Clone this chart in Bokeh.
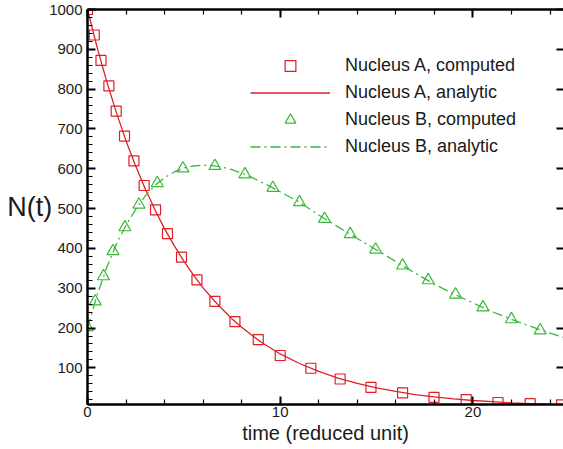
from bokeh.plotting import figure
from bokeh.models import (LinearAxis, Range1d, SingleIntervalTicker, Legend, LegendItem,
                          CustomJSTickFormatter)
from bokeh.embed import file_html
from bokeh.resources import INLINE

# ---- data ----
tA_comp = [0.0, 0.35, 0.70, 1.11, 1.49, 1.92, 2.41, 2.94, 3.53, 4.15, 4.88, 5.68, 6.61,
           7.65, 8.86, 10.0, 11.59, 13.11, 14.71, 16.35, 17.98, 19.65, 21.3, 22.97, 24.6]
nA_comp = [1000, 936, 872, 808, 745, 682, 620, 558, 497, 437, 378, 321, 267,
           216, 171, 131, 99, 72, 51, 37, 26, 20, 13, 10, 7]

tB_comp = [0.0, 0.40, 0.83, 1.32, 1.94, 2.67, 3.62, 4.95, 6.61, 8.17, 9.62, 11.0,
           12.3, 13.63, 14.95, 16.35, 17.68, 19.1, 20.52, 22.0, 23.49]
nB_comp = [202, 267, 330, 393, 453, 510, 564, 601, 607, 586, 552, 516,
           474, 436, 397, 357, 320, 284, 252, 222, 194]

t_line = [0, 0.5, 1, 1.5, 2, 2.5, 3, 3.5, 4, 4.5, 5, 5.5, 6, 6.5, 7, 7.5, 8, 8.5, 9, 9.5,
          10, 11, 12, 13, 14, 15, 16, 17, 18, 19, 20, 21, 22, 23, 24, 25]
nA_line = [1000, 905, 819, 741, 670, 607, 549, 497, 449, 407, 368, 333, 301, 273, 247, 223,
           202, 183, 165, 150, 135, 111, 91, 74, 61, 50, 41, 33, 27, 22, 18, 15, 12, 10, 8, 7]
nB_line = [200, 283, 352, 411, 458, 498, 532, 558, 578, 592, 602, 607, 609, 608, 604, 598,
           589, 579, 567, 555, 542, 516, 484, 454, 425, 396, 367, 338, 310, 286, 263, 241,
           222, 204, 187, 172]

labels = ["Nucleus A, computed", "Nucleus A, analytic",
          "Nucleus B, computed", "Nucleus B, analytic"]

RED = "#dd1f26"
GREEN = "#3ab83a"
FONT = "Liberation Sans"
TXT = "#1a1a1a"

p = figure(width=563, height=449, output_backend="svg", toolbar_location=None,
           x_range=Range1d(0, 24.7), y_range=Range1d(8, 1000),
           min_border_left=87, min_border_right=0, min_border_top=9, min_border_bottom=45,
           x_axis_label="time (reduced unit)", y_axis_label="N(t)")
p.outline_line_color = None
p.xgrid.visible = False
p.ygrid.visible = False
p.background_fill_color = "white"
p.border_fill_color = "white"

def style(ax, major_in, minor_in):
    ax.axis_line_width = 2.5
    ax.axis_line_color = "black"
    ax.major_tick_in = major_in
    ax.major_tick_out = 0
    ax.minor_tick_in = minor_in
    ax.minor_tick_out = 0
    ax.major_tick_line_width = 2
    ax.minor_tick_line_width = 1.2
    ax.major_tick_line_color = "black"
    ax.minor_tick_line_color = "black"
    ax.major_label_text_font = FONT
    ax.major_label_text_font_size = "15px"
    ax.major_label_text_color = TXT
    ax.axis_label_text_font = FONT
    ax.axis_label_text_font_style = "normal"
    ax.axis_label_text_color = TXT

xa = p.xaxis[0]
xa.ticker = SingleIntervalTicker(interval=10, num_minor_ticks=5)
style(xa, 8, 5)
xa.major_label_standoff = 2
xa.axis_label_standoff = 2
xa.axis_label_text_font_size = "20px"

ya = p.yaxis[0]
ya.ticker = SingleIntervalTicker(interval=100, num_minor_ticks=5)
style(ya, 8, 5)
ya.major_label_standoff = 5
ya.axis_label_standoff = -6
ya.axis_label_orientation = "horizontal"
ya.axis_label_text_font_size = "27px"

blank = CustomJSTickFormatter(code="return '';")

top = LinearAxis(ticker=SingleIntervalTicker(interval=10, num_minor_ticks=5),
                 formatter=blank)
style(top, 8, 5)
top.major_label_standoff = 0
p.add_layout(top, "above")

right = LinearAxis(ticker=SingleIntervalTicker(interval=100, num_minor_ticks=0),
                   formatter=blank)
style(right, 7, 0)
right.axis_line_alpha = 0
right.major_label_standoff = 0
p.add_layout(right, "right")

rA = p.scatter(tA_comp, nA_comp, marker="square", size=10, fill_color=None,
               line_color=RED, line_width=1.2)
lA = p.line(t_line, nA_line, line_color=RED, line_width=1.3)
rB = p.scatter(tB_comp, nB_comp, marker="triangle", size=12, fill_color=None,
               line_color=GREEN, line_width=1.2)
lB = p.line(t_line, nB_line, line_color=GREEN, line_width=1.3, line_dash="10 4 2 4")

legend = Legend(items=[LegendItem(label=labels[0], renderers=[rA]),
                       LegendItem(label=labels[1], renderers=[lA]),
                       LegendItem(label=labels[2], renderers=[rB]),
                       LegendItem(label=labels[3], renderers=[lB])],
                location=(163, 244), glyph_width=80, glyph_height=27, label_height=27,
                spacing=0, padding=0, margin=0, label_standoff=15,
                label_text_font=FONT, label_text_font_size="18px", label_text_color=TXT,
                border_line_alpha=0, background_fill_alpha=0)
p.add_layout(legend, "center")

open("out.html", "w").write(file_html(p, INLINE))
